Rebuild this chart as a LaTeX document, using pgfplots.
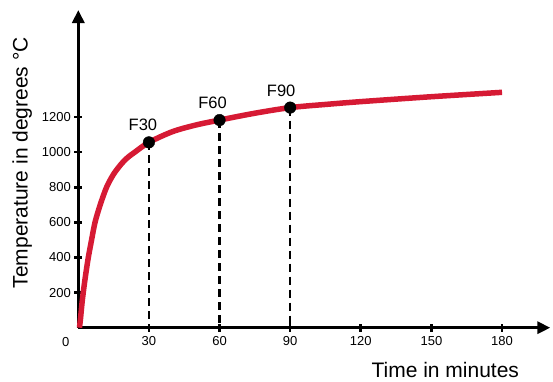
\documentclass[border=0pt]{standalone}
\usepackage{fontspec}
\setmainfont{Liberation Sans}
\usepackage{pgfplots}
\pgfplotsset{compat=1.18}
\usetikzlibrary{arrows.meta}
\definecolor{firered}{RGB}{214,26,52}
\begin{document}
\begin{tikzpicture}
\useasboundingbox (-78.3pt,-53.3pt) rectangle (474.7pt,327.7pt);
\begin{axis}[
  at={(0pt,0pt)}, anchor=south west,
  scale only axis, width=472pt, height=317.7pt,
  xmin=0, xmax=200.5, ymin=0, ymax=1810,
  axis lines=left,
  axis line style={line width=3.2pt,-{Triangle[length=13pt,width=12pt]}},
  xtick={30,60,90,120,150,180},
  ytick={200,400,600,800,1000,1200},
  tick align=center, major tick length=8pt,
  tick style={line width=2.6pt,black},
  /pgf/number format/assume math mode=true,
  /pgf/number format/1000 sep={},
  ticklabel style={font=\fontsize{13}{13}\selectfont},
  xticklabel style={yshift=-1pt},
  yticklabel style={xshift=0pt},
  clip=false,
]
\addplot[firered, line width=5.5pt, smooth, tension=0.5] coordinates {
(0.5,0) (1,60) (1.5,130) (2.1,200) (3,290) (4.25,400) (5.5,490) (7.1,600)
(9.3,700) (12,800) (15,875) (18.4,935) (21,970) (24,1000) (30,1056)
(40,1117) (50,1155) (60,1183) (75,1222) (90,1254) (105,1272) (120,1288)
(150,1316) (180,1341)};
\addplot[black, line width=2.2pt, dash pattern=on 8pt off 5pt] coordinates {(30,1056) (30,0)};
\addplot[black, line width=2.2pt, dash pattern=on 8pt off 5pt] coordinates {(60,1183) (60,0)};
\addplot[black, line width=2.2pt, dash pattern=on 8pt off 5pt] coordinates {(90,1254) (90,0)};
\addplot[only marks, mark=*, mark size=5.8pt, black] coordinates {(30,1056) (60,1183) (90,1254)};
\node[font=\fontsize{16.5}{16.5}\selectfont] at ([xshift=-6pt,yshift=18pt]axis cs:30,1056) {F30};
\node[font=\fontsize{16.5}{16.5}\selectfont] at ([xshift=-7pt,yshift=17.5pt]axis cs:60,1183) {F60};
\node[font=\fontsize{16.5}{16.5}\selectfont] at ([xshift=-9pt,yshift=17pt]axis cs:90,1254) {F90};
\node[font=\fontsize{13}{13}\selectfont] at ([xshift=-12.5pt,yshift=-14pt]axis cs:0,0) {0};
\end{axis}
\node[rotate=90, font=\fontsize{21}{21}\selectfont] at (-56pt,165pt) {Temperature in degrees °C};
\node[font=\fontsize{21}{21}\selectfont] at (367pt,-42pt) {Time in minutes};
\end{tikzpicture}
\end{document}
